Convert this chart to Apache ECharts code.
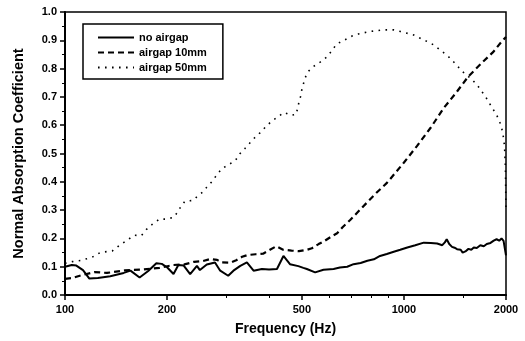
<!DOCTYPE html>
<html>
<head>
<meta charset="utf-8">
<script src="https://cdn.jsdelivr.net/npm/echarts@6/dist/echarts.min.js"></script>
<style>
  html, body { margin: 0; padding: 0; background: #fff; }
  #chart { width: 525px; height: 341px; }
</style>
</head>
<body>
<div id="chart"></div>
<script>
const seriesNames = ['no airgap', 'airgap 10mm', 'airgap 50mm'];
const majorTicks = [100, 200, 500, 1000, 2000];
const minorTicks = [300, 400, 600, 700, 800, 900, 1500];

// no airgap (solid)
const noAirFreq = [100, 104.7, 108, 113, 118, 125, 136, 149, 156, 166, 176, 186, 193, 200, 209, 216, 224, 234, 245, 250,
  262, 277, 287, 303, 314, 329, 344, 360, 381, 400, 422, 441, 461, 488, 505, 517, 547, 579, 620, 647,
  680, 710, 745, 780, 815, 850, 890, 933, 975, 1023, 1080, 1144, 1200, 1253, 1297, 1320, 1337, 1360, 1386, 1410,
  1434, 1470, 1490, 1518, 1550, 1580, 1607, 1640, 1680, 1720, 1755, 1800, 1840, 1876, 1910, 1940, 1967, 1990, 2000];
const noAirVal = [0.100, 0.106, 0.104, 0.088, 0.058, 0.060, 0.066, 0.078, 0.086, 0.062, 0.085, 0.112, 0.110, 0.098, 0.074, 0.106, 0.104, 0.074, 0.103, 0.088,
  0.108, 0.115, 0.086, 0.068, 0.086, 0.103, 0.115, 0.086, 0.092, 0.090, 0.092, 0.138, 0.109, 0.102, 0.096, 0.092, 0.080, 0.089, 0.092, 0.097,
  0.100, 0.109, 0.113, 0.121, 0.126, 0.138, 0.145, 0.153, 0.160, 0.168, 0.176, 0.185, 0.184, 0.182, 0.176, 0.186, 0.197, 0.180, 0.170, 0.167,
  0.162, 0.160, 0.150, 0.154, 0.163, 0.160, 0.168, 0.166, 0.176, 0.172, 0.180, 0.184, 0.192, 0.197, 0.192, 0.200, 0.191, 0.188, 0.140];

// airgap 10mm (dashed)
const gap10Freq = [100, 105, 112, 122, 133, 150, 170, 190, 209, 225, 240, 255, 268, 281, 290, 307, 320, 333, 345, 365,
  384, 400, 420, 440, 466, 490, 518, 535, 560, 585, 613, 635, 660, 694, 744, 831, 892, 1000, 1092, 1197,
  1311, 1434, 1548, 1713, 1838, 1940, 2000];
const gap10Val = [0.057, 0.060, 0.070, 0.081, 0.078, 0.087, 0.090, 0.096, 0.106, 0.108, 0.117, 0.120, 0.127, 0.124, 0.115, 0.114, 0.123, 0.135, 0.141, 0.144,
  0.146, 0.158, 0.172, 0.160, 0.157, 0.155, 0.160, 0.165, 0.180, 0.192, 0.208, 0.218, 0.240, 0.265, 0.303, 0.362, 0.397, 0.468, 0.526, 0.590,
  0.661, 0.719, 0.772, 0.825, 0.860, 0.895, 0.912];

// airgap 50mm (dotted)
const gap50Freq = [100, 105, 111, 120, 127, 138, 145, 154, 160, 168, 174, 181, 190, 198, 209, 215, 220, 226, 238, 245,
  255, 262, 271, 280, 290, 318, 328, 339, 360, 376, 390, 406, 424, 443, 464, 481, 485, 490, 495, 499,
  504, 511, 520, 540, 566, 595, 613, 633, 668, 703, 733, 793, 870, 933, 977, 1068, 1118, 1175, 1223, 1297,
  1351, 1398, 1487, 1590, 1656, 1738, 1815, 1876, 1930, 1957, 1980, 1992, 2000];
const gap50Val = [0.112, 0.118, 0.122, 0.133, 0.150, 0.156, 0.176, 0.197, 0.211, 0.210, 0.232, 0.250, 0.268, 0.268, 0.274, 0.293, 0.314, 0.332, 0.334, 0.347,
  0.364, 0.381, 0.400, 0.423, 0.446, 0.475, 0.499, 0.517, 0.552, 0.573, 0.593, 0.613, 0.629, 0.645, 0.635, 0.638, 0.658, 0.681, 0.700, 0.722,
  0.742, 0.767, 0.788, 0.807, 0.823, 0.843, 0.864, 0.887, 0.901, 0.915, 0.922, 0.931, 0.937, 0.937, 0.931, 0.919, 0.907, 0.895, 0.884, 0.860,
  0.843, 0.825, 0.790, 0.761, 0.737, 0.702, 0.664, 0.637, 0.602, 0.573, 0.526, 0.450, 0.300];

const font = "'Liberation Sans', Arial, sans-serif";
const lg = v => Math.log10(v);
const toPoints = (fs, vs) => fs.map((f, i) => [lg(f), vs[i]]);

const chart = echarts.init(document.getElementById('chart'), null, { renderer: 'canvas' });

const lineSeries = (name, fs, vs, width, type) => ({
    name: name,
    type: 'line',
    showSymbol: false,
    symbol: 'none',
    data: toPoints(fs, vs),
    lineStyle: { color: '#000', width: width, type: type },
    itemStyle: { color: '#000' },
    animation: false
});

const option = {
    backgroundColor: '#fff',
    animation: false,
    grid: {
        left: 65, right: 19, top: 12, bottom: 45,
        show: true, borderColor: '#000', borderWidth: 1.5
    },
    legend: {
        left: 83, top: 24,
        orient: 'vertical',
        itemWidth: 36, itemHeight: 11, itemGap: 4,
        padding: [8, 16, 6, 14],
        borderColor: '#000', borderWidth: 1.5,
        itemStyle: { opacity: 0 },
        textStyle: { fontFamily: font, fontWeight: 'bold', fontSize: 11, color: '#000' },
        data: seriesNames
    },
    xAxis: [{
        type: 'value',
        min: lg(100), max: lg(2000),
        name: 'Frequency (Hz)',
        nameLocation: 'middle',
        nameGap: 27,
        nameTextStyle: { fontFamily: font, fontWeight: 'bold', fontSize: 14, color: '#000' },
        axisLine: { lineStyle: { color: '#000', width: 2 } },
        axisTick: { inside: false, length: 5, customValues: majorTicks.map(lg), lineStyle: { color: '#000', width: 1.5 } },
        axisLabel: {
            customValues: majorTicks.map(lg),
            margin: 9,
            fontFamily: font, fontWeight: 'bold', fontSize: 11, color: '#000',
            formatter: v => String(Math.round(Math.pow(10, v)))
        },
        splitLine: { show: false }
    }, {
        type: 'value',
        min: lg(100), max: lg(2000),
        position: 'bottom',
        axisLine: { show: false },
        axisTick: { inside: false, length: 3, customValues: minorTicks.map(lg), lineStyle: { color: '#000', width: 1 } },
        axisLabel: { show: false },
        splitLine: { show: false }
    }],
    yAxis: {
        type: 'value',
        min: 0, max: 1, interval: 0.1,
        name: 'Normal Absorption Coefficient',
        nameLocation: 'middle',
        nameGap: 39,
        nameTextStyle: { fontFamily: font, fontWeight: 'bold', fontSize: 14.5, color: '#000' },
        axisLine: { show: true, lineStyle: { color: '#000', width: 2 } },
        axisTick: { show: true, length: 5, lineStyle: { color: '#000', width: 1.5 } },
        minorTick: { show: true, splitNumber: 2, length: 3, lineStyle: { color: '#000', width: 1 } },
        axisLabel: {
            margin: 8,
            fontFamily: font, fontWeight: 'bold', fontSize: 11, color: '#000',
            formatter: v => v.toFixed(1)
        },
        splitLine: { show: false }
    },
    series: [
        lineSeries(seriesNames[0], noAirFreq, noAirVal, 2, 'solid'),
        lineSeries(seriesNames[1], gap10Freq, gap10Val, 2.2, [6, 4]),
        lineSeries(seriesNames[2], gap50Freq, gap50Val, 1.6, [1.6, 5.4])
    ]
};
chart.setOption(option);
</script>
</body>
</html>
